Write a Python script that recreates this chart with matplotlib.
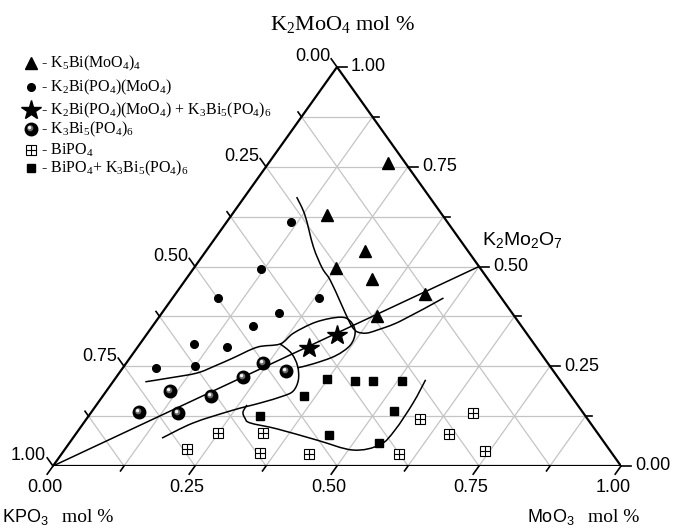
import numpy as np
import matplotlib.pyplot as plt
from matplotlib.path import Path
from matplotlib.patches import PathPatch

plt.rcParams['mathtext.default'] = 'regular'

# phase points, composition as mole fractions (K2MoO4, MoO3); KPO3 = 1 - both
tri_k2 = [0.759, 0.630, 0.538, 0.495, 0.469, 0.431, 0.377]
tri_mo = [0.211, 0.168, 0.281, 0.250, 0.327, 0.439, 0.382]

dot_k2 = [0.612, 0.493, 0.422, 0.420, 0.384, 0.352, 0.305, 0.299, 0.246, 0.251]
dot_mo = [0.113, 0.120, 0.079, 0.259, 0.206, 0.176, 0.096, 0.156, 0.058, 0.125]

star_k2 = [0.296, 0.329]
star_mo = [0.302, 0.335]

ball_k2 = [0.257, 0.239, 0.222, 0.187, 0.176, 0.136, 0.134]
ball_mo = [0.242, 0.291, 0.224, 0.113, 0.190, 0.084, 0.153]

sq_k2 = [0.219, 0.212, 0.212, 0.214, 0.175, 0.139, 0.126, 0.078, 0.057]
sq_mo = [0.373, 0.426, 0.457, 0.507, 0.355, 0.530, 0.301, 0.447, 0.546]

bp_k2 = [0.117, 0.132, 0.082, 0.082, 0.081, 0.043, 0.033, 0.030, 0.030, 0.038]
bp_mo = [0.587, 0.673, 0.249, 0.329, 0.657, 0.215, 0.348, 0.436, 0.594, 0.742]

# KPO3 - K2Mo2O7 join
join_k2 = [0.0, 0.5]
join_mo = [0.0, 0.5]

# phase field boundaries (hand drawn in the original)
cb_k2 = [0.674, 0.629, 0.549, 0.496, 0.466, 0.409, 0.371, 0.348, 0.336, 0.333, 0.341, 0.363, 0.421]
cb_mo = [0.092, 0.129, 0.184, 0.226, 0.255, 0.302, 0.333, 0.353, 0.368, 0.385, 0.401, 0.430, 0.477]

cc_k2 = [0.211, 0.221, 0.233, 0.251, 0.271, 0.298, 0.306, 0.333, 0.361, 0.373, 0.363, 0.336, 0.303, 0.276, 0.256, 0.246]
cc_mo = [0.057, 0.096, 0.137, 0.160, 0.182, 0.211, 0.247, 0.257, 0.283, 0.319, 0.342, 0.364, 0.372, 0.359, 0.330, 0.307]

cd_k2 = [0.306, 0.283, 0.251, 0.216, 0.188, 0.175, 0.158, 0.140, 0.108, 0.070]
cd_mo = [0.247, 0.278, 0.305, 0.324, 0.329, 0.317, 0.286, 0.247, 0.193, 0.157]

ce_k2 = [0.153, 0.135, 0.120, 0.108, 0.093, 0.065, 0.040, 0.053, 0.090, 0.158, 0.216]
ce_mo = [0.265, 0.267, 0.278, 0.293, 0.348, 0.432, 0.508, 0.549, 0.557, 0.555, 0.548]

ticks = [0.0, 0.25, 0.5, 0.75, 1.0]
tick_labels = ['0.00', '0.25', '0.50', '0.75', '1.00']
grid_step = 0.125

legend_labels = [
    '- K$_5$Bi(MoO$_4$)$_4$',
    '- K$_2$Bi(PO$_4$)(MoO$_4$)',
    '- K$_2$Bi(PO$_4$)(MoO$_4$) + K$_3$Bi$_5$(PO$_4$)$_6$',
    '- K$_3$Bi$_5$(PO$_4$)$_6$',
    '- BiPO$_4$',
    '- BiPO$_4$+ K$_3$Bi$_5$(PO$_4$)$_6$',
]


def to_xy(k2, mo):
    k2 = np.asarray(k2, float)
    mo = np.asarray(mo, float)
    return mo + k2 / 2, k2


def smooth_path(x, y):
    # catmull-rom through the points, handed to matplotlib as bezier segments
    p = np.column_stack([x, y])
    ext = np.vstack([p[0], p, p[-1]])
    verts = [p[0]]
    codes = [Path.MOVETO]
    for i in range(1, len(ext) - 2):
        c1 = ext[i] + (ext[i + 1] - ext[i - 1]) / 6
        c2 = ext[i + 1] - (ext[i + 2] - ext[i]) / 6
        verts += [c1, c2, ext[i + 1]]
        codes += [Path.CURVE4] * 3
    return Path(verts, codes)


def offset_dot(cx, cy, r):
    c = Path.circle((cx, cy), r)
    verts = np.vstack([[[-1, -1], [1, 1]], c.vertices])
    codes = np.concatenate([[Path.MOVETO, Path.MOVETO], c.codes])
    return Path(verts, codes)


shade1 = offset_dot(-0.2, 0.2, 0.38)
shade2 = offset_dot(-0.3, 0.3, 0.16)

W, H = 673, 528
fig = plt.figure(figsize=(W / 100, H / 100), dpi=100)
ax = fig.add_axes([53 / W, 62 / H, 568 / W, 399 / H])
ax.set_xlim(0, 1)
ax.set_ylim(0, 1)
ax.axis('off')

px_x = 1 / 568
px_y = 1 / 399

# grid
for g in np.arange(grid_step, 1, grid_step):
    x, y = to_xy([g, g], [0, 1 - g])          # constant K2MoO4
    ax.plot(x, y, color='#c4c4c4', lw=0.9, zorder=1)
    x, y = to_xy([0, 1 - g], [g, g])          # constant MoO3
    ax.plot(x, y, color='#c4c4c4', lw=0.9, zorder=1)
    x, y = to_xy([1 - g, 0], [0, 1 - g])      # constant KPO3
    ax.plot(x, y, color='#c4c4c4', lw=0.9, zorder=1)

# frame
x, y = to_xy([0, 0, 1, 0], [0, 1, 0, 0])
ax.plot(x, y, color='black', lw=1.6, zorder=3, solid_joinstyle='miter')

# ticks
tk_font = dict(family='Liberation Sans', size=13)
for i, t in enumerate(np.arange(0, 1.0001, grid_step)):
    ln = 10 if i % 2 == 0 else 6
    x, y = to_xy([t], [1 - t])
    ax.plot([x[0], x[0] + ln * px_x], [y[0], y[0]], color='black', lw=1.2, clip_on=False)
    x, y = to_xy([1 - t], [0])
    ax.plot([x[0], x[0] - 0.58 * ln * px_x], [y[0], y[0] + 0.815 * ln * px_y],
            color='black', lw=1.2, clip_on=False)
    x, y = to_xy([0], [t])
    ax.plot([x[0], x[0] - 0.58 * ln * px_x], [y[0], y[0] - 0.815 * ln * px_y],
            color='black', lw=1.2, clip_on=False)

for t, lab in zip(ticks, tick_labels):
    x, y = to_xy([t], [1 - t])
    ax.annotate(lab, (x[0], y[0]), xytext=(14, 0), textcoords='offset pixels',
                ha='left', va='center', annotation_clip=False, **tk_font)
    x, y = to_xy([1 - t], [0])
    ax.annotate(lab, (x[0], y[0]), xytext=(-7, 10), textcoords='offset pixels',
                ha='right', va='center', annotation_clip=False, **tk_font)
    x, y = to_xy([0], [t])
    ax.annotate(lab, (x[0], y[0]), xytext=(-8, -13), textcoords='offset pixels',
                ha='center', va='top', annotation_clip=False, **tk_font)

# join and boundaries
x, y = to_xy(join_k2, join_mo)
ax.plot(x, y, color='black', lw=1.1, zorder=4)
for k2, mo in [(cb_k2, cb_mo), (cc_k2, cc_mo), (cd_k2, cd_mo), (ce_k2, ce_mo)]:
    x, y = to_xy(k2, mo)
    ax.add_patch(PathPatch(smooth_path(x, y), fill=False, ec='black', lw=1.1,
                           zorder=4, joinstyle='round'))

styles = {
    'tri': [dict(marker='^', ms=8.5, color='black')],
    'dot': [dict(marker='o', ms=5.5, color='black')],
    'star': [dict(marker='*', ms=15, color='black')],
    'ball': [dict(marker='o', ms=9, color='black'),
             dict(marker=shade1, ms=9, color='#6a6a6a'),
             dict(marker=shade2, ms=9, color='#f2f2f2')],
    'bp': [dict(marker='s', ms=6.5, mfc='white', mec='black', mew=0.8),
           dict(marker='+', ms=6.5, color='black', mew=0.8)],
    'sq': [dict(marker='s', ms=6, color='black')],
}

series = [('tri', tri_k2, tri_mo), ('dot', dot_k2, dot_mo), ('star', star_k2, star_mo),
          ('ball', ball_k2, ball_mo), ('bp', bp_k2, bp_mo), ('sq', sq_k2, sq_mo)]

for key, k2, mo in series:
    x, y = to_xy(k2, mo)
    for st in styles[key]:
        ax.plot(x, y, ls='none', zorder=5, clip_on=False, **st)

# legend drawn by hand
rows_y = [63, 87, 110, 129, 150, 168]
for (key, _, _), lab, ry in zip(series, legend_labels, rows_y):
    fy = 1 - ry / H
    for st in styles[key]:
        ax.plot([31 / W], [fy], ls='none', transform=fig.transFigure, clip_on=False, **st)
    fig.text(41 / W, fy, lab, family='Liberation Serif', size=11.5, ha='left', va='center')

# axis titles
fig.text(343 / W, 1 - 30 / H, 'K$_2$MoO$_4$ mol %', family='Liberation Serif', size=16,
         ha='center', va='baseline')
fig.text(2 / W, 1 - 522 / H, 'KPO$_3$', family='Liberation Sans', size=13, va='baseline')
fig.text(62 / W, 1 - 522 / H, 'mol %', family='Liberation Serif', size=14, va='baseline')
fig.text(527 / W, 1 - 522 / H, 'MoO$_3$', family='Liberation Sans', size=13, va='baseline')
fig.text(588 / W, 1 - 522 / H, 'mol %', family='Liberation Serif', size=14, va='baseline')
fig.text(482 / W, 1 - 245 / H, 'K$_2$Mo$_2$O$_7$', family='Liberation Sans', size=14,
         va='baseline')

fig.savefig('out.png', dpi=100)
